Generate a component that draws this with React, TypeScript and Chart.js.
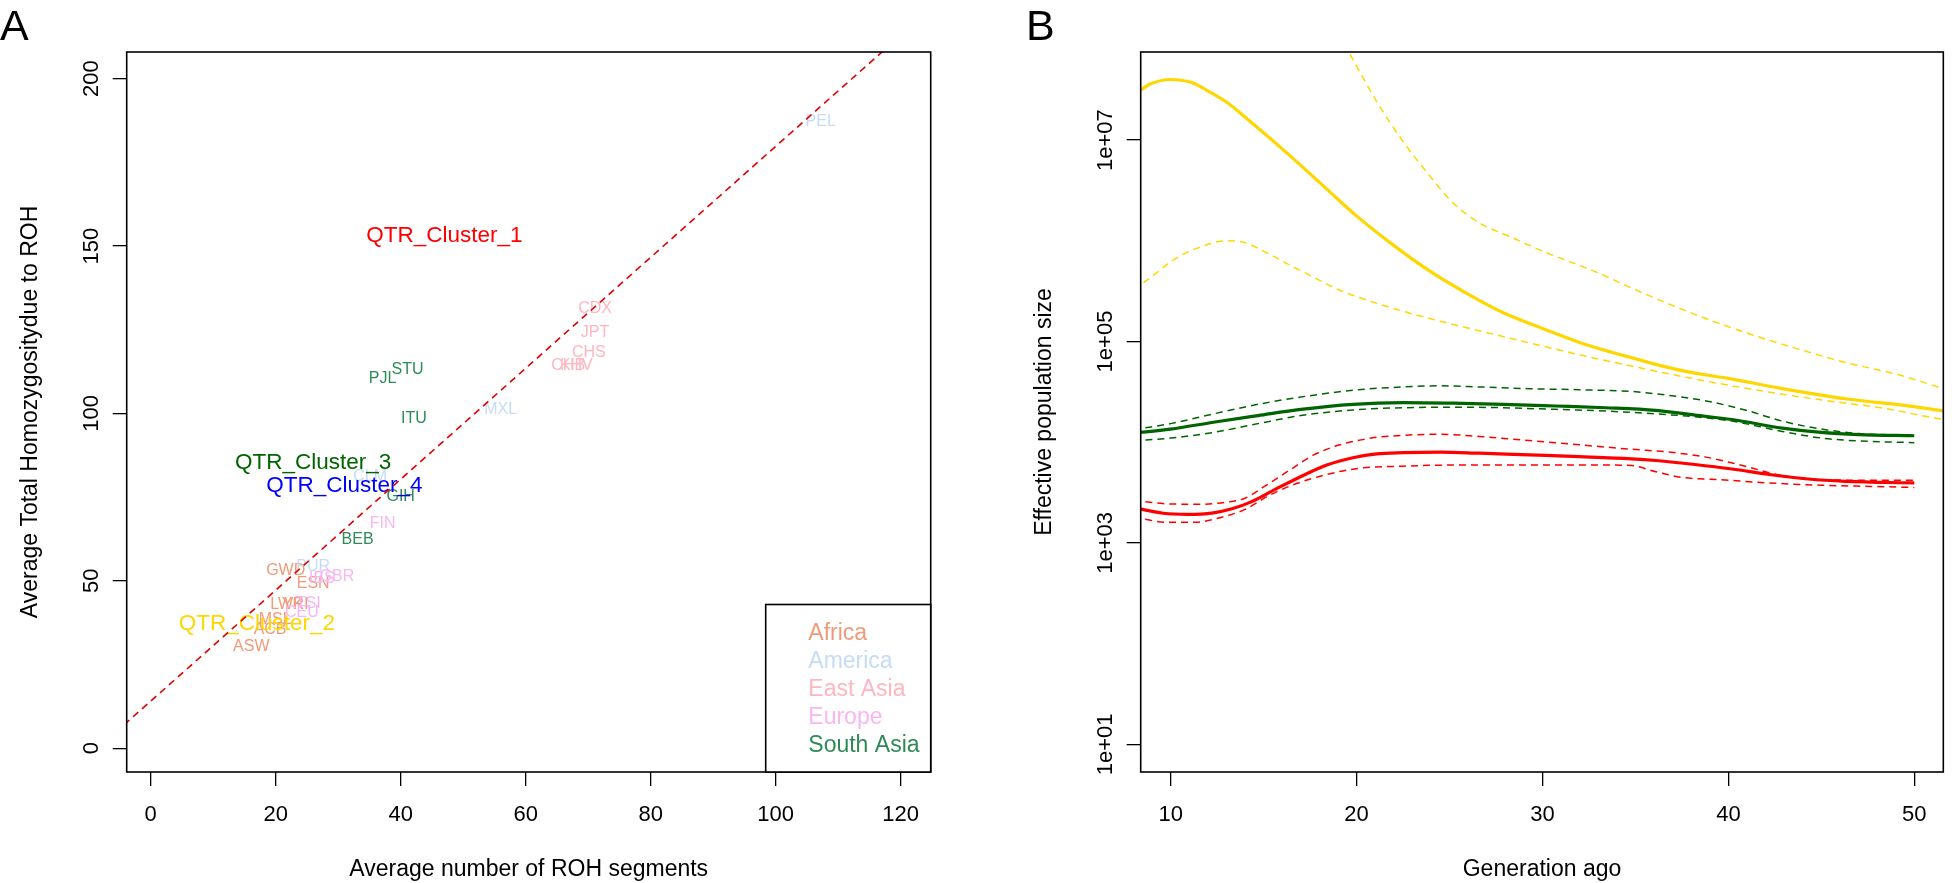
import React, { useEffect, useRef } from 'react';
import { Chart, registerables } from 'chart.js';

Chart.register(...registerables);

const FONT = '"Liberation Sans", Arial, Helvetica, sans-serif';
const TICK_SIZE = 22;

// ---------------- Panel A data ----------------
const africaLabels = ['ACB', 'ASW', 'ESN', 'GWD', 'LWK', 'MSL', 'YRI'];
const africaX = [19.1, 16.1, 26.0, 21.6, 21.8, 19.9, 23.1];
const africaY = [35.3, 30.3, 49.1, 53.0, 43.0, 38.3, 42.8];

const americaLabels = ['CLM', 'MXL', 'PEL', 'PUR'];
const americaX = [35.1, 56.0, 107.2, 26.0];
const americaY = [81.1, 101.3, 187.2, 54.2];

const eastAsiaLabels = ['CDX', 'CHB', 'CHS', 'JPT', 'KHV'];
const eastAsiaX = [71.1, 66.8, 70.1, 71.1, 68.1];
const eastAsiaY = [131.2, 114.3, 118.3, 124.3, 114.3];

const europeLabels = ['CEU', 'FIN', 'GBR', 'IBS', 'TSI'];
const europeX = [24.2, 37.1, 29.8, 27.4, 25.2];
const europeY = [40.5, 67.2, 51.3, 50.8, 43.3];

const southAsiaLabels = ['BEB', 'GIH', 'ITU', 'PJL', 'STU'];
const southAsiaX = [33.1, 40.0, 42.1, 37.1, 41.1];
const southAsiaY = [62.2, 75.1, 98.4, 110.3, 113.2];

const qtrLabels = ['QTR_Cluster_1', 'QTR_Cluster_2', 'QTR_Cluster_3', 'QTR_Cluster_4'];
const qtrX = [47.0, 17.0, 26.0, 31.0];
const qtrY = [153.2, 37.3, 85.3, 78.4];

const refLineX = [-10, 130];
const refLineY = [-2.5, 229.5];

const xTicksA = [0, 20, 40, 60, 80, 100, 120];
const yTicksA = [0, 50, 100, 150, 200];
const yTickLabelsA = ['0', '50', '100', '150', '200'];

const legendLabels = ['Africa', 'America', 'East Asia', 'Europe', 'South Asia'];

// ---------------- Panel B data ----------------
const genYellow = [8, 8.4, 8.9, 10, 11.1, 11.9, 13, 14.3, 16.4, 18.4, 19.9, 21.8, 23.9, 25.9, 27.9, 30, 32, 34.8, 37.5, 40, 42.9, 46.3, 50, 51.6, 53];
const neYellow = [2.9e7, 3.16e7, 3.6e7, 4.0e7, 3.75e7, 3.16e7, 2.39e7, 1.52e7, 7.05e6, 3.26e6, 1.83e6, 9.6e5, 5.06e5, 3.03e5, 1.93e5, 1.35e5, 9.8e4, 6.9e4, 5.14e4, 4.3e4, 3.41e4, 2.7e4, 2.26e4, 2.04e4, 1.9e4];

const genYellowHi = [16, 18, 19.6, 21.1, 22.5, 23.9, 25.2, 26.6, 28.3, 30, 32.7, 35.4, 38.2, 40.9, 43.6, 46.3, 49.1, 51.6, 53];
const neYellowHi = [1.3e9, 2.5e8, 7.4e7, 2.39e7, 9.7e6, 4.5e6, 2.37e6, 1.51e6, 1.09e6, 7.9e5, 5.06e5, 3.03e5, 1.86e5, 1.23e5, 8.6e4, 6.2e4, 4.7e4, 3.41e4, 2.9e4];

const genYellowLo = [8, 8.4, 9.2, 10.2, 11.6, 13, 14, 15, 16.4, 17.7, 19.1, 20.8, 22.5, 24.5, 26.6, 28.6, 30.7, 32.7, 34.8, 37.5, 40.2, 42.9, 45.6, 48.4, 51.6, 53];
const neYellowLo = [3.3e5, 3.67e5, 4.74e5, 6.55e5, 8.7e5, 1.0e6, 9.6e5, 7.9e5, 5.75e5, 4.34e5, 3.23e5, 2.49e5, 2.0e5, 1.59e5, 1.28e5, 1.04e5, 8.4e4, 6.9e4, 5.7e4, 4.5e4, 3.63e4, 3.0e4, 2.54e4, 2.17e4, 1.68e4, 1.58e4];

const genGreen = [8, 10, 12.3, 14.7, 17, 19.8, 22.5, 25.2, 27.9, 30.7, 33.4, 36.1, 38.2, 40.2, 42.9, 45, 47, 50];
const neGreen = [12300, 13500, 15800, 18400, 21200, 23800, 24700, 24400, 23800, 22900, 22000, 20700, 18600, 16800, 13800, 12500, 11900, 11600];

const genGreenHi = [8, 10, 12.3, 14.7, 17, 19.8, 22.5, 24.5, 26.6, 29.3, 32, 34.8, 36.8, 38.8, 40.9, 42.9, 45, 47, 50];
const neGreenHi = [13300, 15300, 19100, 23800, 28100, 32800, 35400, 36300, 35400, 34000, 33200, 31900, 29200, 25700, 20900, 16200, 13500, 12200, 11700];

const genGreenLo = [8, 10, 12.3, 14.7, 17, 19.8, 22.5, 25.2, 27.9, 30.7, 33.4, 36.1, 38.2, 40.2, 42.9, 45, 47, 50];
const neGreenLo = [10300, 11000, 12500, 15300, 18400, 20900, 22000, 22300, 22000, 21200, 20400, 19100, 17900, 16200, 12800, 11000, 10300, 9900];

const genRed = [8, 9.6, 10.9, 12.3, 13.3, 14.3, 15.7, 17.1, 18.4, 19.8, 21.1, 22.5, 24.5, 26.6, 29.3, 32, 34.8, 36.1, 38.2, 40.2, 42.2, 44.3, 46.3, 50];
const neRed = [2240, 1970, 1920, 1990, 2180, 2540, 3460, 4650, 5930, 7010, 7670, 7870, 7980, 7780, 7480, 7190, 6840, 6580, 6010, 5420, 4780, 4310, 4090, 3940];

const genRedHi = [8, 9.9, 11.6, 13, 14, 15, 16.4, 17.7, 19.1, 20.8, 22.5, 24.5, 26.6, 29.3, 32, 34.8, 36.8, 38.8, 40.9, 42.9, 45, 47, 50];
const neRedHi = [2650, 2440, 2420, 2540, 2780, 3600, 5280, 7480, 9420, 11000, 11700, 12000, 11400, 10400, 9420, 8510, 7980, 7110, 5780, 4650, 4250, 4200, 4200];

const genRedLo = [8, 9.9, 11.3, 12.6, 14, 15.3, 16.7, 18.4, 20.1, 22.5, 25.2, 27.9, 30.7, 33.4, 34.8, 36.1, 37.5, 39.5, 42.2, 45, 47.7, 50];
const neRedLo = [1800, 1600, 1600, 1770, 2150, 2960, 3840, 4780, 5500, 5780, 5930, 5930, 5930, 5930, 5860, 5090, 4480, 4250, 3940, 3740, 3640, 3550];

const xTicksB = [10, 20, 30, 40, 50];
const yTicksB = [10, 1000, 100000, 10000000];
const yTickLabelsB = ['1e+01', '1e+03', '1e+05', '1e+07'];

// ---------------- Styles ----------------
const regionColors = ['#F09A7A', '#C6DBF5', '#FFB6C1', '#F8B6F4', '#2E8B57'];
const qtrColors = ['#FF0000', '#FFD700', '#006400', '#0000FF'];
const GOLD = '#FFD700';
const DGREEN = '#006400';
const RED = '#FF0000';

const toPts = (xs: number[], ys: number[]) => xs.map((x, i) => ({ x, y: ys[i] }));

const framePlugin = {
  id: 'frame',
  afterDatasetsDraw(chart: any) {
    const { ctx, chartArea: a } = chart;
    ctx.save();
    ctx.strokeStyle = '#000';
    ctx.lineWidth = 1.6;
    ctx.strokeRect(a.left, a.top, a.right - a.left, a.bottom - a.top);
    ctx.restore();
  },
};

function yTickLabelPlugin(values: number[], labels: string[]) {
  return {
    id: 'yTickLabels',
    afterDraw(chart: any) {
      const scale = chart.scales.y;
      const ctx = chart.ctx;
      ctx.save();
      ctx.font = `${TICK_SIZE}px ${FONT}`;
      ctx.fillStyle = '#000';
      ctx.textAlign = 'center';
      ctx.textBaseline = 'alphabetic';
      values.forEach((v, i) => {
        const py = scale.getPixelForValue(v);
        ctx.save();
        ctx.translate(chart.chartArea.left - 28.8, py);
        ctx.rotate(-Math.PI / 2);
        ctx.fillText(labels[i], 0, 0);
        ctx.restore();
      });
      ctx.restore();
    },
  };
}

function letterPlugin(letter: string, x: number) {
  return {
    id: 'panelLetter',
    afterDraw(chart: any) {
      const ctx = chart.ctx;
      ctx.save();
      ctx.font = `43px ${FONT}`;
      ctx.fillStyle = '#000';
      ctx.textAlign = 'left';
      ctx.textBaseline = 'alphabetic';
      ctx.fillText(letter, x, 40);
      ctx.restore();
    },
  };
}

const textPlugin = {
  id: 'pointText',
  beforeDatasetsDraw(chart: any) {
    const ctx = chart.ctx;
    chart.data.datasets.forEach((ds: any, i: number) => {
      if (!ds.textLabels) return;
      const meta = chart.getDatasetMeta(i);
      ctx.save();
      ctx.font = `${ds.textSize}px ${FONT}`;
      ctx.textAlign = 'center';
      ctx.textBaseline = 'middle';
      meta.data.forEach((el: any, j: number) => {
        ctx.fillStyle = Array.isArray(ds.textColor) ? ds.textColor[j] : ds.textColor;
        ctx.fillText(ds.textLabels[j], el.x, el.y);
      });
      ctx.restore();
    });
  },
};

const legendPlugin = {
  id: 'regionLegend',
  afterDraw(chart: any) {
    const { ctx, chartArea: a } = chart;
    const w = 165;
    const h = 167.5;
    const left = a.right - w;
    const top = a.bottom - h;
    ctx.save();
    ctx.fillStyle = '#fff';
    ctx.fillRect(left, top, w, h);
    ctx.strokeStyle = '#000';
    ctx.lineWidth = 1.6;
    ctx.strokeRect(left, top, w, h);
    ctx.font = `23px ${FONT}`;
    ctx.textAlign = 'left';
    ctx.textBaseline = 'middle';
    legendLabels.forEach((lab, i) => {
      ctx.fillStyle = regionColors[i];
      ctx.fillText(lab, left + 42.6, top + 29 + i * 28.1);
    });
    ctx.restore();
  },
};

const axisGrid = { drawOnChartArea: false, drawTicks: true, tickLength: 14, color: '#000', lineWidth: 1.3 };

function makeConfigA(): any {
  const groups = [
    { labels: africaLabels, xs: africaX, ys: africaY, color: regionColors[0], size: 16 },
    { labels: americaLabels, xs: americaX, ys: americaY, color: regionColors[1], size: 16 },
    { labels: eastAsiaLabels, xs: eastAsiaX, ys: eastAsiaY, color: regionColors[2], size: 16 },
    { labels: europeLabels, xs: europeX, ys: europeY, color: regionColors[3], size: 16 },
    { labels: southAsiaLabels, xs: southAsiaX, ys: southAsiaY, color: regionColors[4], size: 16 },
    { labels: qtrLabels, xs: qtrX, ys: qtrY, color: qtrColors, size: 22.5 },
  ];
  const datasets: any[] = groups.map((g) => ({
    data: toPts(g.xs, g.ys),
    pointRadius: 0,
    showLine: false,
    textLabels: g.labels,
    textColor: g.color,
    textSize: g.size,
  }));
  datasets.push({
    data: toPts(refLineX, refLineY),
    showLine: true,
    borderColor: '#E00000',
    borderWidth: 1.6,
    borderDash: [7, 5],
    pointRadius: 0,
    clip: 0,
  });
  return {
    type: 'scatter',
    data: { datasets },
    options: {
      responsive: false,
      animation: false,
      events: [],
      layout: { padding: { top: 52, right: 45.3, left: 0, bottom: 0 } },
      plugins: { legend: { display: false }, tooltip: { enabled: false } },
      scales: {
        x: {
          type: 'linear',
          min: -3.84,
          max: 124.8,
          bounds: 'data',
          afterBuildTicks: (s: any) => { s.ticks = xTicksA.map((v) => ({ value: v })); },
          afterFit: (s: any) => { s.height = 111; },
          grid: axisGrid,
          border: { display: false },
          ticks: { autoSkip: false, maxRotation: 0, padding: 15.5, color: '#000', font: { family: FONT, size: TICK_SIZE }, callback: (v: any) => String(v) },
          title: { display: true, text: 'Average number of ROH segments', color: '#000', font: { family: FONT, size: 23 }, padding: { top: 0, bottom: 0 } },
        },
        y: {
          type: 'linear',
          min: -7.1,
          max: 207.97,
          bounds: 'data',
          afterBuildTicks: (s: any) => { s.ticks = yTicksA.map((v) => ({ value: v })); },
          afterFit: (s: any) => { s.width = 126.7; },
          grid: axisGrid,
          border: { display: false },
          ticks: { display: false },
          title: { display: true, text: 'Average Total Homozygositydue to ROH', color: '#000', font: { family: FONT, size: 23 }, padding: { top: 16.8, bottom: 0 } },
        },
      },
    },
    plugins: [textPlugin, framePlugin, legendPlugin, yTickLabelPlugin(yTicksA, yTickLabelsA), letterPlugin('A', 0)],
  };
}

function makeConfigB(): any {
  const series = [
    { xs: genYellowHi, ys: neYellowHi, color: GOLD, width: 1.5, dash: [7, 5] },
    { xs: genYellowLo, ys: neYellowLo, color: GOLD, width: 1.5, dash: [7, 5] },
    { xs: genGreenHi, ys: neGreenHi, color: DGREEN, width: 1.5, dash: [7, 5] },
    { xs: genGreenLo, ys: neGreenLo, color: DGREEN, width: 1.5, dash: [7, 5] },
    { xs: genRedHi, ys: neRedHi, color: RED, width: 1.5, dash: [7, 5] },
    { xs: genRedLo, ys: neRedLo, color: RED, width: 1.5, dash: [7, 5] },
    { xs: genYellow, ys: neYellow, color: GOLD, width: 3.2, dash: [] },
    { xs: genGreen, ys: neGreen, color: DGREEN, width: 3.2, dash: [] },
    { xs: genRed, ys: neRed, color: RED, width: 3.2, dash: [] },
  ];
  return {
    type: 'line',
    data: {
      datasets: series.map((s) => ({
        data: toPts(s.xs, s.ys),
        borderColor: s.color,
        borderWidth: s.width,
        borderDash: s.dash,
        pointRadius: 0,
        fill: false,
        cubicInterpolationMode: 'monotone',
        clip: 0,
      })),
    },
    options: {
      responsive: false,
      animation: false,
      events: [],
      layout: { padding: { top: 52, right: 8.7, left: 0, bottom: 0 } },
      plugins: { legend: { display: false }, tooltip: { enabled: false } },
      scales: {
        x: {
          type: 'linear',
          min: 8.39,
          max: 51.56,
          bounds: 'data',
          afterBuildTicks: (s: any) => { s.ticks = xTicksB.map((v) => ({ value: v })); },
          afterFit: (s: any) => { s.height = 111; },
          grid: axisGrid,
          border: { display: false },
          ticks: { autoSkip: false, maxRotation: 0, padding: 15.5, color: '#000', font: { family: FONT, size: TICK_SIZE }, callback: (v: any) => String(v) },
          title: { display: true, text: 'Generation ago', color: '#000', font: { family: FONT, size: 23 }, padding: { top: 0, bottom: 0 } },
        },
        y: {
          type: 'logarithmic',
          min: 5.31,
          max: 7.5e7,
          bounds: 'data',
          afterBuildTicks: (s: any) => { s.ticks = yTicksB.map((v) => ({ value: v })); },
          afterFit: (s: any) => { s.width = 164.7; },
          grid: axisGrid,
          border: { display: false },
          ticks: { display: false },
          title: { display: true, text: 'Effective population size', color: '#000', font: { family: FONT, size: 23 }, padding: { top: 54.4, bottom: 0 } },
        },
      },
    },
    plugins: [framePlugin, yTickLabelPlugin(yTicksB, yTickLabelsB), letterPlugin('B', 50)],
  };
}

export default function App() {
  const refA = useRef<HTMLCanvasElement>(null);
  const refB = useRef<HTMLCanvasElement>(null);
  useEffect(() => {
    const chartA = new Chart(refA.current as HTMLCanvasElement, makeConfigA());
    const chartB = new Chart(refB.current as HTMLCanvasElement, makeConfigB());
    return () => {
      chartA.destroy();
      chartB.destroy();
    };
  }, []);
  return (
    <div style={{ position: 'fixed', left: 0, top: 0, width: 1952, height: 883, background: '#fff' }}>
      <canvas ref={refA} width={976} height={883} style={{ position: 'absolute', left: 0, top: 0, width: 976, height: 883 }} />
      <canvas ref={refB} width={976} height={883} style={{ position: 'absolute', left: 976, top: 0, width: 976, height: 883 }} />
    </div>
  );
}
